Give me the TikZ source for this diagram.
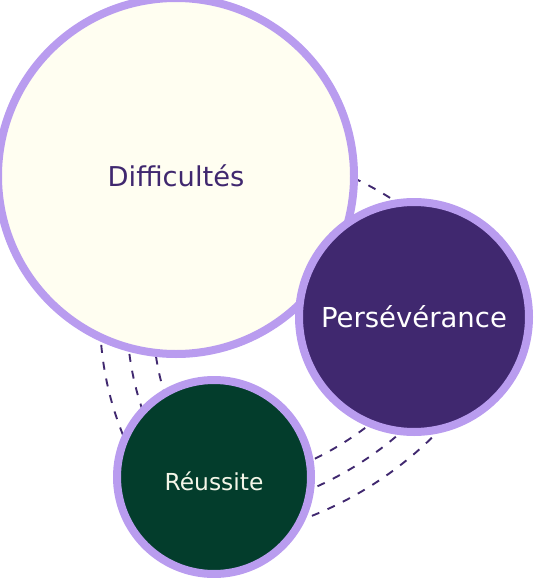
\documentclass[tikz,border=0pt]{standalone}
\usepackage{fontspec}
\setmainfont{DejaVu Sans}
\usetikzlibrary{backgrounds}
\definecolor{lav}{HTML}{B99CEF}
\definecolor{cream}{HTML}{FFFEF1}
\definecolor{deeppurple}{HTML}{40286F}
\definecolor{deepgreen}{HTML}{033D2C}
\definecolor{creamtext}{HTML}{F4F6E8}
\tikzset{
  bubble/.style={circle, draw=lav, line width=8pt, inner sep=0pt},
  dashline/.style={draw=deeppurple, line width=1.9pt, dash pattern=on 8pt off 9pt},
}
\begin{document}
\begin{tikzpicture}[x=1pt,y=1pt]
\path[use as bounding box, clip] (0,0) rectangle (534,-578);
\node[bubble, fill=cream, minimum size=356pt, text=deeppurple,
      font=\fontsize{27.3}{30}\selectfont] (diff) at (176,-176) {Difficultés};
\node[bubble, fill=deeppurple, minimum size=230pt, text=white,
      font=\fontsize{27.5}{30}\selectfont] (pers) at (414,-317) {Persévérance};
\node[bubble, fill=deepgreen, minimum size=194pt, text=creamtext,
      font=\fontsize{23.4}{26}\selectfont, text height=26pt, text depth=0pt] (reus) at (214,-477) {Réussite};
\begin{scope}[on background layer]
  % rings around Difficultés
  \draw[dashline] ([shift={(-50:315pt)}]diff.center) arc[start angle=-50, end angle=-68, radius=315pt];
  \draw[dashline] ([shift={(-47:341pt)}]diff.center) arc[start angle=-47, end angle=-69, radius=341pt];
  \draw[dashline] ([shift={(-43:366pt)}]diff.center) arc[start angle=-43, end angle=-71, radius=366pt];
  % rings around Persévérance
  \draw[dashline] ([shift={(-178:314pt)}]pers.center) arc[start angle=-178, end angle=-157, radius=314pt];
  \draw[dashline] ([shift={(-176:287pt)}]pers.center) arc[start angle=-176, end angle=-159, radius=287pt];
  \draw[dashline] ([shift={(-175:261pt)}]pers.center) arc[start angle=-175, end angle=-160, radius=261pt];
  % ring around Réussite
  \draw[dashline] ([shift={(68:330pt)}]reus.center) arc[start angle=68, end angle=54, radius=330pt];
\end{scope}
\end{tikzpicture}
\end{document}
